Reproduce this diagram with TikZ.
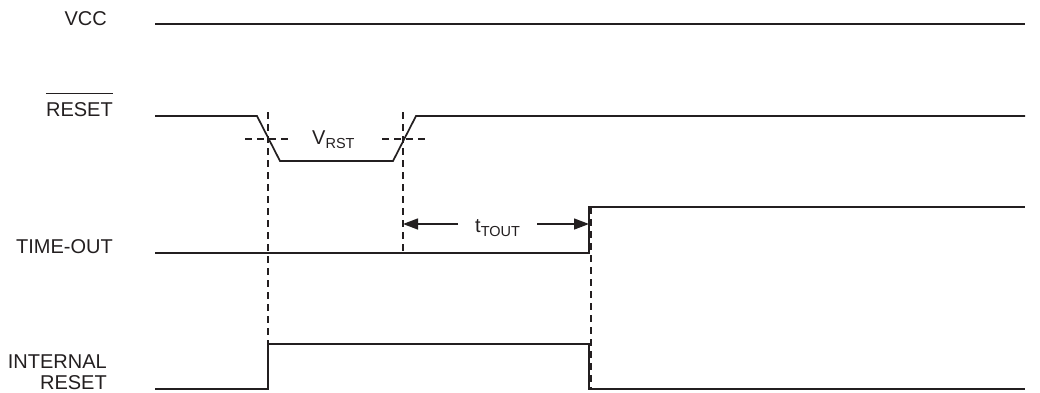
\documentclass[tikz,border=0pt]{standalone}
\usepackage{fontspec}
\setmainfont{Liberation Sans}
\usetikzlibrary{arrows.meta}
\definecolor{sigc}{HTML}{231F20}
\begin{document}
\begin{tikzpicture}[x=1pt,y=-1pt,
  sig/.style={line width=1.7pt, color=sigc, line join=miter},
  guide/.style={line width=1.2pt, dash pattern=on 6.5pt off 5.5pt, color=sigc},
  lbl/.style={anchor=base east, inner sep=0pt, font=\fontsize{20}{24}\selectfont, text=sigc},
  dimlbl/.style={anchor=base west, inner sep=0pt, font=\fontsize{20}{24}\selectfont, text=sigc},
  dimarrow/.style={line width=1.4pt, color=sigc, -{Triangle[length=15pt,width=11pt]}}]
\newcommand{\subx}[1]{\raisebox{-4pt}{\fontsize{14.5}{16}\selectfont #1}}
\useasboundingbox (0,0) rectangle (1040,392);

% labels
\node[lbl] (lvcc) at (107,25) {VCC};
\node[lbl] (lrst) at (113,116) {RESET};
\draw[line width=1.2pt, color=sigc] ([yshift=8pt]lrst.north west) -- ([yshift=8pt]lrst.north east);
\node[lbl] (ltime) at (113,253) {TIME-OUT};
\node[lbl] (lint) at (107,368) {INTERNAL};
\node[lbl] (lint2) at (107,389) {RESET};

% waveforms
\draw[sig] (155,24) -- (1025,24);
\draw[sig] (155,116) -- (257,116) -- (280,161) -- (393,161) -- (416,116) -- (1025,116);
\draw[sig] (155,253) -- (589,253) -- (589,207) -- (1025,207);
\draw[sig] (155,389) -- (268,389) -- (268,344) -- (589,344) -- (589,389) -- (1025,389);

% guides
\draw[guide] (268,112) -- (268,344);
\draw[guide] (403,112) -- (403,253);
\draw[guide] (591,207) -- (591,389);
\draw[guide] (245,139) -- (292,139);
\draw[guide] (382,139) -- (428,139);

% V_RST
\node[dimlbl] (vrst) at (312,144) {V\subx{RST}};

% t_TOUT
\node[dimlbl] (ttout) at (475,232) {t\subx{TOUT}};
\coordinate (aL) at (403,224);
\coordinate (aR) at (589,224);
\coordinate (sL) at (458,224);
\coordinate (sR) at (537,224);
\draw[dimarrow] (sL) -- (aL);
\draw[dimarrow] (sR) -- (aR);
\end{tikzpicture}
\end{document}
